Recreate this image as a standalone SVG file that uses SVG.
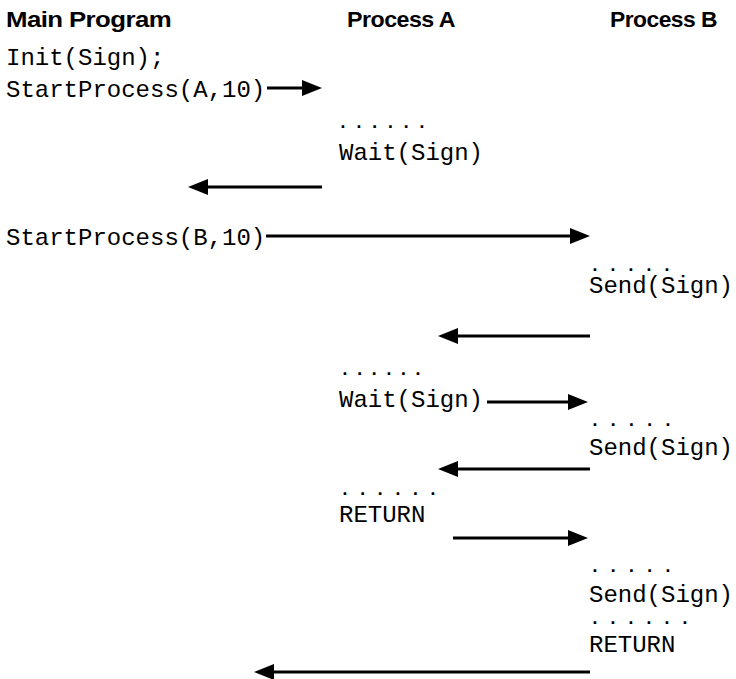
<svg xmlns="http://www.w3.org/2000/svg" width="736" height="679" viewBox="0 0 736 679">
<style>
.hd{font-family:"Liberation Sans",Arial,sans-serif;font-weight:bold;font-size:22px;fill:#000;letter-spacing:-0.5px}
.cd{font-family:"Liberation Mono","Courier New",monospace;font-size:24px;fill:#000}
.dt{font-family:"Liberation Mono","Courier New",monospace;font-size:18px;font-weight:bold;fill:#000}
.ar{stroke:#000;stroke-width:3;fill:none;marker-end:url(#ah)}
</style>
<defs>
<marker id="ah" markerUnits="userSpaceOnUse" viewBox="0 0 20 16" markerWidth="20" markerHeight="16" refX="8" refY="8" orient="auto">
<path d="M0,0 L20,8 L0,16 z" fill="#000"/>
</marker>
</defs>
<rect width="736" height="679" fill="#fff"/>
<g id="headers">
<text class="hd" x="6" y="27" textLength="165" lengthAdjust="spacingAndGlyphs">Main Program</text>
<text class="hd" x="347" y="27" textLength="108" lengthAdjust="spacingAndGlyphs">Process A</text>
<text class="hd" x="610" y="27" textLength="107" lengthAdjust="spacingAndGlyphs">Process B</text>
</g>
<g id="main">
<text class="cd" x="6" y="65">Init(Sign);</text>
<text class="cd" x="6" y="97">StartProcess(A,10)</text>
<text class="cd" x="6" y="245">StartProcess(B,10)</text>
</g>
<g id="procA">
<text class="dt" x="337.6" y="127.5" letter-spacing="5">......</text>
<text class="cd" x="339" y="160">Wait(Sign)</text>
<text class="dt" x="339.6" y="374.5" letter-spacing="3.8">......</text>
<text class="cd" x="339" y="407">Wait(Sign)</text>
<text class="dt" x="339.6" y="494.5" letter-spacing="6.8">......</text>
<text class="cd" x="339" y="522">RETURN</text>
</g>
<g id="procB">
<text class="dt" x="589.6" y="271" letter-spacing="7.2">.....</text>
<text class="cd" x="589" y="293">Send(Sign)</text>
<text class="dt" x="589.6" y="426" letter-spacing="7.45">.....</text>
<text class="cd" x="589" y="455">Send(Sign)</text>
<text class="dt" x="589.6" y="572" letter-spacing="7.45">.....</text>
<text class="cd" x="589" y="602">Send(Sign)</text>
<text class="dt" x="589.6" y="623.5" letter-spacing="7.2">......</text>
<text class="cd" x="589" y="652">RETURN</text>
</g>
<g id="connectors">
<line class="ar" x1="267" y1="88" x2="310" y2="88"/>
<line class="ar" x1="322" y1="187" x2="200" y2="187"/>
<line class="ar" x1="266" y1="236" x2="578" y2="236"/>
<line class="ar" x1="590" y1="336" x2="450" y2="336"/>
<line class="ar" x1="487" y1="402" x2="576" y2="402"/>
<line class="ar" x1="590" y1="469" x2="450" y2="469"/>
<line class="ar" x1="453" y1="538" x2="576" y2="538"/>
<line class="ar" x1="590" y1="672" x2="266" y2="672"/>
</g>
</svg>
